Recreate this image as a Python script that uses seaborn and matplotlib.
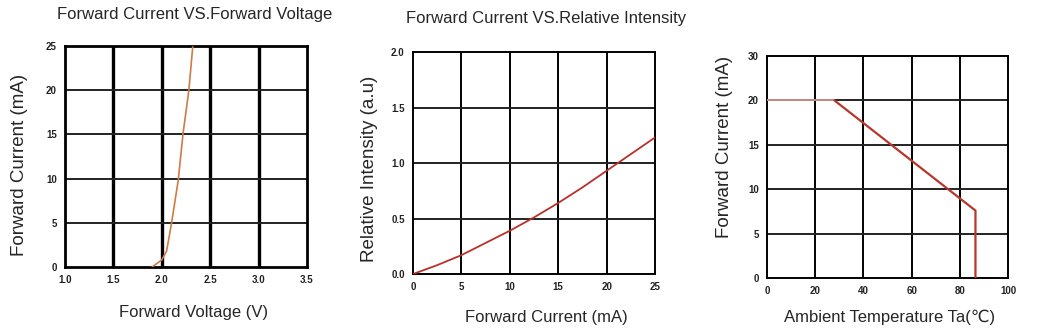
import matplotlib
matplotlib.use("Agg")
import matplotlib.pyplot as plt
import seaborn as sns
import pandas as pd

# Panel 1: forward current vs forward voltage
vf_volt = [1.90, 2.00, 2.05, 2.10, 2.17, 2.22, 2.28, 2.32]
vf_curr = [0.0, 0.8, 1.8, 4.9, 9.8, 15.1, 20.0, 24.9]
p1_xticks = [1.0, 1.5, 2.0, 2.5, 3.0, 3.5]
p1_xlabels = ["1.0", "1.5", "2.0", "2.5", "3.0", "3.5"]
p1_yticks = [0, 5, 10, 15, 20, 25]
p1_ylabels = ["0", "5", "10", "15", "20", "25"]

# Panel 2: relative intensity vs forward current
ri_curr = [0, 2.5, 5, 7.5, 10, 12.5, 15, 17.5, 20, 22.5, 25]
ri_int = [0.0, 0.08, 0.17, 0.28, 0.39, 0.51, 0.64, 0.78, 0.93, 1.08, 1.23]
p2_xticks = [0, 5, 10, 15, 20, 25]
p2_xlabels = ["0", "5", "10", "15", "20", "25"]
p2_yticks = [0.0, 0.5, 1.0, 1.5, 2.0]
p2_ylabels = ["0.0", "0.5", "1.0", "1.5", "2.0"]

# Panel 3: derating curve (y axis labels 0,5,10,15,20,30 equally spaced)
flat_temp = [0, 28]
flat_curr = [20, 20]
derate_temp = [28, 86.5, 86.5]
derate_curr = [20, 7.6, 0]
p3_xticks = [0, 20, 40, 60, 80, 100]
p3_xlabels = ["0", "20", "40", "60", "80", "100"]
p3_yticks = [0, 5, 10, 15, 20, 25]
p3_ylabels = ["0", "5", "10", "15", "20", "30"]

sns.set_style("white")
plt.rcParams['font.family'] = ['Liberation Sans', 'DejaVu Sans']

fig = plt.figure(figsize=(10.38, 3.35), dpi=100)
ax1 = fig.add_axes([0.0626, 0.203, 0.2331, 0.6597])
ax2 = fig.add_axes([0.3979, 0.182, 0.2331, 0.6627])
ax3 = fig.add_axes([0.7389, 0.170, 0.2322, 0.6627])

def style(ax, xt, xl, yt, yl, xlim, ylim, vlw, hlw, spw):
    ax.set_xlim(*xlim)
    ax.set_ylim(*ylim)
    ax.set_xticks(xt)
    ax.set_xticklabels(xl, fontsize=7, color="#222222", fontweight="bold")
    ax.set_yticks(yt)
    ax.set_yticklabels(yl, fontsize=7, color="#222222", fontweight="bold")
    ax.tick_params(length=0, pad=6)
    for v in xt[1:-1]:
        ax.axvline(v, color="black", lw=vlw, zorder=1)
    for h in yt[1:-1]:
        ax.axhline(h, color="#222222", lw=hlw, zorder=1)
    for s in ax.spines.values():
        s.set_visible(True)
        s.set_color("black")
        s.set_linewidth(spw)

df1 = pd.DataFrame({"v": vf_volt, "i": vf_curr})
sns.lineplot(data=df1, x="v", y="i", ax=ax1, color="#d07a45", lw=1.2, zorder=3,
             sort=False, estimator=None)
style(ax1, p1_xticks, p1_xlabels, p1_yticks, p1_ylabels, (1.0, 3.5), (0, 25), 2.4, 1.4, 2.0)
ax1.set_title("Forward Current VS.Forward Voltage", fontsize=12, x=0.535, y=1.085)
ax1.set_xlabel("Forward Voltage (V)", fontsize=12)
ax1.set_ylabel("Forward Current (mA)", fontsize=13.5)
ax1.xaxis.set_label_coords(0.53, -0.172)
ax1.yaxis.set_label_coords(-0.154, 0.464)

df2 = pd.DataFrame({"c": ri_curr, "r": ri_int})
sns.lineplot(data=df2, x="c", y="r", ax=ax2, color="#b8302a", lw=1.3, zorder=3,
             estimator=None)
style(ax2, p2_xticks, p2_xlabels, p2_yticks, p2_ylabels, (0, 25), (0, 2.0), 1.4, 1.4, 1.4)
ax2.set_title("Forward Current VS.Relative Intensity", fontsize=12, x=0.55, y=1.095)
ax2.set_xlabel("Forward Current (mA)", fontsize=12)
ax2.set_ylabel("Relative Intensity (a.u)", fontsize=13.5)
ax2.xaxis.set_label_coords(0.55, -0.16)
ax2.yaxis.set_label_coords(-0.145, 0.473)

df3a = pd.DataFrame({"t": flat_temp, "c": flat_curr})
df3b = pd.DataFrame({"t": derate_temp, "c": derate_curr})
style(ax3, p3_xticks, p3_xlabels, p3_yticks, p3_ylabels, (0, 100), (0, 25), 1.4, 1.4, 1.4)
sns.lineplot(data=df3a, x="t", y="c", ax=ax3, color="#c98a84", lw=1.4, zorder=3,
             sort=False, estimator=None)
sns.lineplot(data=df3b, x="t", y="c", ax=ax3, color="#b5382b", lw=1.6, zorder=3,
             sort=False, estimator=None)
ax3.set_xlabel("Ambient Temperature Ta(℃)", fontsize=12)
ax3.set_ylabel("Forward Current (mA)", fontsize=13.5)
ax3.xaxis.set_label_coords(0.51, -0.143)
ax3.yaxis.set_label_coords(-0.143, 0.59)

fig.savefig("out.png", dpi=100)
